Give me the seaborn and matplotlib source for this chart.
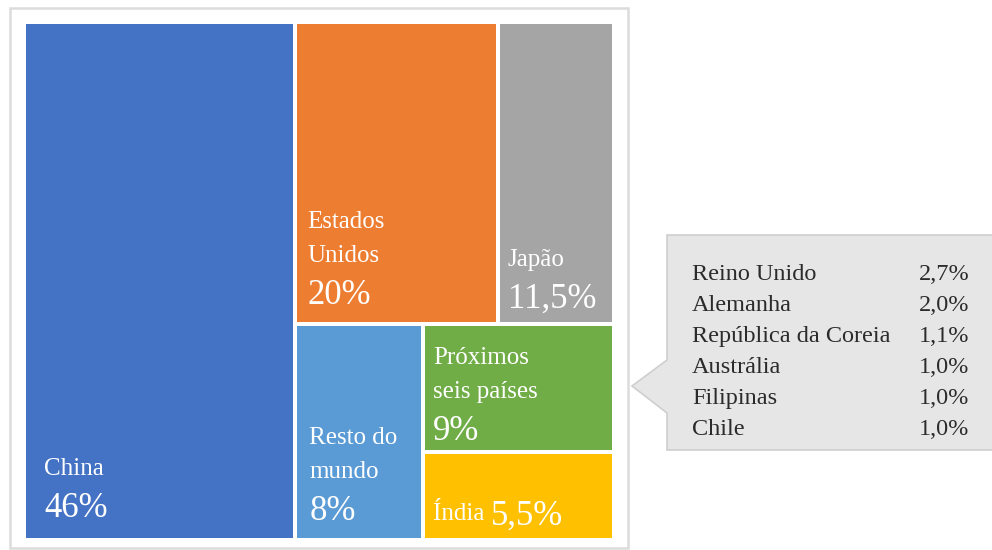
import matplotlib
matplotlib.use("Agg")
import matplotlib.pyplot as plt
from matplotlib.patches import Rectangle, Polygon
import seaborn as sns

# ---- data ----
tiles = ["China", "Estados Unidos", "Japão", "Resto do mundo", "Próximos seis países", "Índia"]
tile_text = [["China"], ["Estados", "Unidos"], ["Japão"], ["Resto do", "mundo"], ["Próximos", "seis países"], []]
share_labels = ["46%", "20%", "11,5%", "8%", "9%", "5,5%"]
area_values = [46.0, 20.0, 11.5, 9.0, 8.0, 5.5]   # tile areas
tile_colors = ["#4472C4", "#ED7D31", "#A5A5A5", "#5B9BD5", "#70AD47", "#FFC000"]

detail_countries = ["Reino Unido", "Alemanha", "República da Coreia", "Austrália", "Filipinas", "Chile"]
detail_shares = ["2,7%", "2,0%", "1,1%", "1,0%", "1,0%", "1,0%"]

sns.set_theme(style="white")
plt.rcParams["font.family"] = ["Liberation Serif", "DejaVu Serif"]
palette = sns.color_palette(tile_colors)

W, H = 992, 550
fig = plt.figure(figsize=(W / 100, H / 100), dpi=100)

# overlay axes in pixel coordinates (frame + callout)
ov = fig.add_axes([0, 0, 1, 1], zorder=0)
ov.set_xlim(0, W)
ov.set_ylim(H, 0)
ov.axis("off")
ov.add_patch(Rectangle((10, 8), 618, 540, facecolor="white", edgecolor="#dcdcdc", lw=1.8))

# treemap axes
L, R, T, B = 24, 614, 22, 540
ax = fig.add_axes([L / W, (H - B) / H, (R - L) / W, (B - T) / H], zorder=1)
ax.set_xlim(0, 1)
ax.set_ylim(0, 1)
ax.axis("off")

# layout (slice layout like the reference)
total = sum(area_values)
china, us, jp, rest, six, ind = area_values
fc = china / total
rem = total - china
h_top = (us + jp) / rem
rw = 1 - fc
rects = []
rects.append((0, 0, fc, 1))
rects.append((fc, 1 - h_top, rw * us / (us + jp), h_top))
rects.append((fc + rw * us / (us + jp), 1 - h_top, rw * jp / (us + jp), h_top))
bh = 1 - h_top
rest_w = rw * rest / (rest + six + ind)
rects.append((fc, 0, rest_w, bh))
six_h = bh * six / (six + ind)
rects.append((fc + rest_w, bh - six_h, rw - rest_w, six_h))
rects.append((fc + rest_w, 0, rw - rest_w, bh - six_h))

lw_pt = 4 * 72 / 100
for (x, y, w, h), c in zip(rects, palette):
    ax.add_patch(Rectangle((x, y), w, h, facecolor=c, edgecolor="white", lw=lw_pt))

# text placement (pixel offsets from the tile's bottom-left)
left_pad = [20, 12, 10, 14, 10, 10]
bottom_pad = [23, 20, 16, 20, 12, 20]
small_fs, big_fs = 18, 25
for i, (x, y, w, h) in enumerate(rects):
    base = bottom_pad[i]
    lp = left_pad[i]
    if tiles[i] == "Índia":
        t = ax.annotate("Índia ", (x, y), xytext=(lp, base), textcoords="offset pixels",
                        color="white", fontsize=small_fs, va="baseline", ha="left")
        ax.annotate(share_labels[i], xy=(1, 0), xycoords=t, xytext=(0, 0),
                    textcoords="offset pixels", color="white", fontsize=big_fs,
                    va="baseline", ha="left")
        continue
    ax.annotate(share_labels[i], (x, y), xytext=(lp, base), textcoords="offset pixels",
                color="white", fontsize=big_fs, va="baseline", ha="left")
    yy = base + 42
    for line in reversed(tile_text[i]):
        ax.annotate(line, (x, y), xytext=(lp, yy), textcoords="offset pixels",
                    color="white", fontsize=small_fs, va="baseline", ha="left")
        yy += 34

# callout
poly = [(667, 235), (995, 235), (995, 450), (667, 450), (667, 413), (632, 386), (667, 360)]
ov.add_patch(Polygon(poly, closed=True, facecolor="#e6e6e6", edgecolor="#cfcfcf", lw=1.2))
for k, (name, val) in enumerate(zip(detail_countries, detail_shares)):
    yb = 280 + k * 31
    ov.text(692, yb, name, fontsize=17.5, color="#2b2b2b", va="baseline", ha="left")
    ov.text(919, yb, val, fontsize=17.5, color="#2b2b2b", va="baseline", ha="left")

fig.savefig("out.png", dpi=100)
